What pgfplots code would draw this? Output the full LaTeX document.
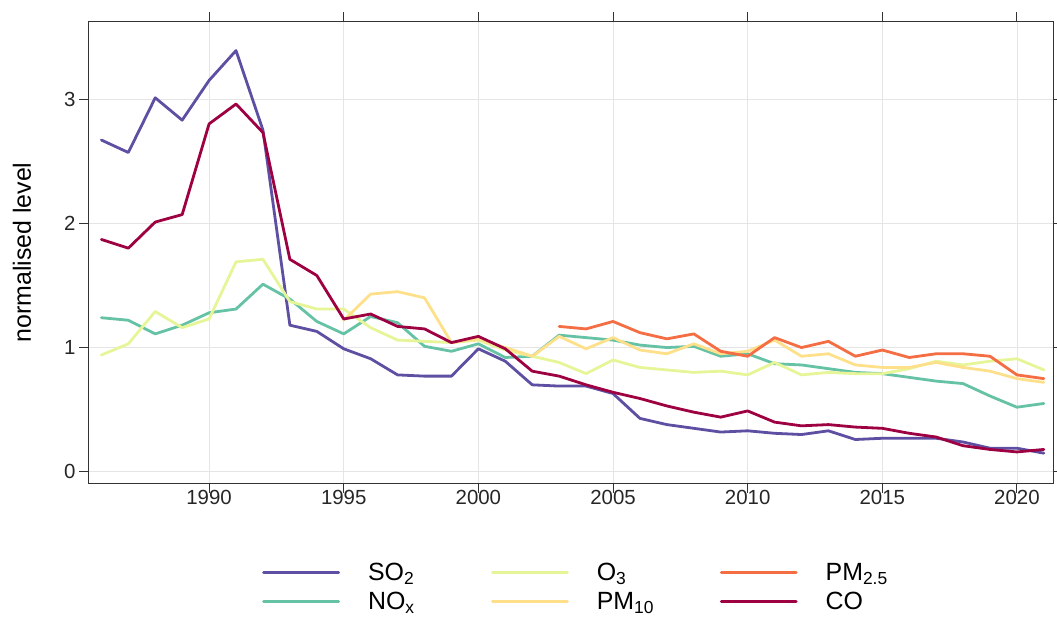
\documentclass[border=0pt]{standalone}
\usepackage{fontspec}
\setmainfont{Liberation Sans}
\usepackage{pgfplots}
\usepackage{pgfplotstable}
\pgfplotsset{compat=1.18}
\definecolor{cSO}{HTML}{5E4FA2}
\definecolor{cNO}{HTML}{66C2A5}
\definecolor{cOT}{HTML}{E6F598}
\definecolor{cPMt}{HTML}{FEE08B}
\definecolor{cPMf}{HTML}{F46D43}
\definecolor{cCO}{HTML}{9E0142}
\pgfplotstableread{
year SO2 NOx O3 PM10 PM25 CO
1986 2.67 1.24 0.94 nan nan 1.87
1987 2.57 1.22 1.03 nan nan 1.80
1988 3.01 1.11 1.29 nan nan 2.01
1989 2.83 1.18 1.16 nan nan 2.07
1990 3.15 1.28 1.23 nan nan 2.80
1991 3.39 1.31 1.69 nan nan 2.96
1992 2.75 1.51 1.71 nan nan 2.73
1993 1.18 1.39 1.37 nan nan 1.71
1994 1.13 1.21 1.31 nan nan 1.58
1995 0.99 1.11 1.31 1.22 nan 1.23
1996 0.91 1.25 1.16 1.43 nan 1.27
1997 0.78 1.20 1.06 1.45 nan 1.17
1998 0.77 1.01 1.05 1.40 nan 1.15
1999 0.77 0.97 1.04 1.04 nan 1.04
2000 0.99 1.03 1.06 1.07 nan 1.09
2001 0.89 0.92 0.98 1.00 nan 0.99
2002 0.70 0.93 0.93 0.93 nan 0.81
2003 0.69 1.10 0.88 1.09 1.17 0.77
2004 0.69 1.08 0.79 0.99 1.15 0.70
2005 0.63 1.06 0.90 1.08 1.21 0.64
2006 0.43 1.02 0.84 0.98 1.12 0.59
2007 0.38 1.00 0.82 0.95 1.07 0.53
2008 0.35 1.01 0.80 1.03 1.11 0.48
2009 0.32 0.93 0.81 0.95 0.97 0.44
2010 0.33 0.95 0.78 0.97 0.93 0.49
2011 0.31 0.87 0.88 1.06 1.08 0.40
2012 0.30 0.86 0.78 0.93 1.00 0.37
2013 0.33 0.83 0.80 0.95 1.05 0.38
2014 0.26 0.80 0.79 0.86 0.93 0.36
2015 0.27 0.79 0.79 0.84 0.98 0.35
2016 0.27 0.76 0.83 0.84 0.92 0.31
2017 0.27 0.73 0.89 0.88 0.95 0.28
2018 0.24 0.71 0.86 0.84 0.95 0.21
2019 0.19 0.61 0.89 0.81 0.93 0.18
2020 0.19 0.52 0.91 0.75 0.78 0.16
2021 0.15 0.55 0.82 0.72 0.75 0.18
}\data
\begin{document}
\begin{tikzpicture}
\begin{axis}[
  name=ax,
  width=964bp, height=461bp, scale only axis,
  xmin=1985.54, xmax=2021.34, ymin=-0.09, ymax=3.62,
  xtick={1990,1995,...,2020}, ytick={0,1,2,3},
  xtick pos=both, ytick pos=both, xticklabel pos=lower, yticklabel pos=left,
  tick align=outside, major tick length=10bp,
  grid=major, grid style={color=black!10, line width=0.8bp},
  axis line style={black!80, line width=1bp},
  tick style={black!80, line width=1bp},
  ticklabel style={font=\fontsize{20.5}{24}\selectfont, text=black!85},
  xticklabel style={yshift=6bp},
  /pgf/number format/assume math mode=true,
  /pgf/number format/1000 sep={},
  ylabel={normalised level},
  ylabel style={font=\fontsize{25}{29}\selectfont, at={(axis description cs:-0.0695,0.5)}, anchor=center},
  legend columns=3,
  legend cell align=left,
  legend image code/.code={\draw[#1] (0bp,0bp) -- (75bp,0bp);},
  legend style={draw=none, fill=none, inner sep=0pt, at={(axis description cs:0.1795,-0.1735)}, anchor=north west,
    font=\fontsize{25}{29}\selectfont, column sep=0pt, row sep=10bp,
    nodes={inner xsep=0pt, inner ysep=0pt},
    /tikz/every odd column/.append style={column sep=28bp},
    /tikz/every even column/.append style={text width=123bp}},
  every axis plot/.append style={line width=2.8bp, line join=round, line cap=round},
]
\addlegendimage{cSO, line width=2.8bp}
\addlegendimage{cOT, line width=2.8bp}
\addlegendimage{cPMf, line width=2.8bp}
\addlegendimage{cNO, line width=2.8bp}
\addlegendimage{cPMt, line width=2.8bp}
\addlegendimage{cCO, line width=2.8bp}
\addplot[cSO, forget plot] table[x=year, y=SO2] {\data};
\addplot[cNO, forget plot] table[x=year, y=NOx] {\data};
\addplot[cOT, forget plot] table[x=year, y=O3] {\data};
\addplot[cPMt, forget plot] table[x=year, y=PM10] {\data};
\addplot[cPMf, forget plot] table[x=year, y=PM25] {\data};
\addplot[cCO, forget plot] table[x=year, y=CO] {\data};
\legend{SO\textsubscript{2}, O\textsubscript{3}, PM\textsubscript{2.5}, NO\textsubscript{x}, PM\textsubscript{10}, CO}
\end{axis}
\pgfresetboundingbox
\path ([shift={(-89bp,-138bp)}]ax.south west) rectangle ([shift={(4bp,22bp)}]ax.north east);
\end{tikzpicture}
\end{document}
